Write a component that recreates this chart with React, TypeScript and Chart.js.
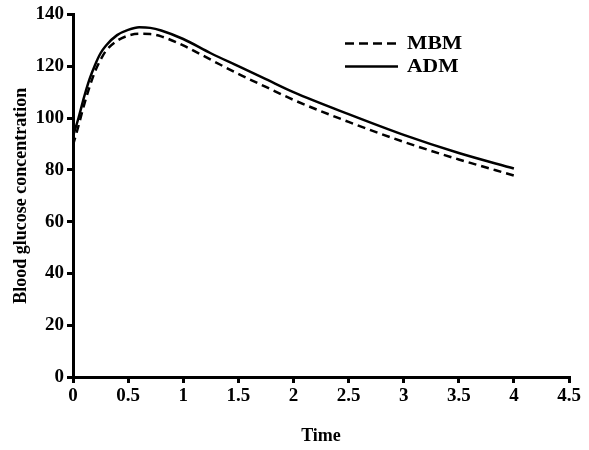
import React, { useEffect, useRef } from "react";
import { Chart, registerables } from "chart.js";

Chart.register(...registerables);

const timePoints = [0, 0.05, 0.1, 0.15, 0.2, 0.25, 0.3, 0.4, 0.5, 0.6, 0.7, 0.8, 1.0, 1.25, 1.5, 1.75, 2, 2.5, 3, 3.5, 4];
const mbmValues = [89.5, 97, 105, 112, 118, 122.5, 126, 129.8, 131.8, 132.5, 132.4, 131.5, 128, 122.5, 117, 112, 107, 98.5, 90.8, 84, 77.8];
const admValues = [93, 100, 108, 115, 120.5, 125, 128, 132, 134, 135, 134.8, 133.8, 130.5, 125, 120, 115, 110, 101.5, 93.5, 86.5, 80.5];
const seriesNames = ["MBM", "ADM"];
const xTitle = "Time";
const yTitle = "Blood glucose concentration";

const FONT = "'Liberation Serif', 'Times New Roman', serif";

const legendPlugin = {
  id: "insideLegend",
  afterDraw(chart: any) {
    const ctx = chart.ctx;
    ctx.save();
    ctx.strokeStyle = "#000";
    ctx.lineWidth = 2.5;
    ctx.setLineDash([9, 5]);
    ctx.beginPath();
    ctx.moveTo(345, 43.5);
    ctx.lineTo(398, 43.5);
    ctx.stroke();
    ctx.setLineDash([]);
    ctx.beginPath();
    ctx.moveTo(345, 66.5);
    ctx.lineTo(398, 66.5);
    ctx.stroke();
    ctx.fillStyle = "#000";
    ctx.font = `bold 18px ${FONT}`;
    ctx.textBaseline = "middle";
    ctx.textAlign = "left";
    [0, 1].forEach((i) => {
      ctx.save();
      ctx.translate(407, 44 + i * 23);
      ctx.scale(1.2, 1);
      ctx.fillText(seriesNames[i], 0, 0);
      ctx.restore();
    });
    ctx.restore();
  },
};

export default function App() {
  const canvasRef = useRef<HTMLCanvasElement | null>(null);

  useEffect(() => {
    if (!canvasRef.current) return;
    const chart = new Chart(canvasRef.current, {
      type: "line",
      data: {
        datasets: [
          {
            label: seriesNames[0],
            data: timePoints.map((t, i) => ({ x: t, y: mbmValues[i] })),
            borderColor: "#000",
            borderWidth: 2.5,
            borderDash: [8, 5],
            pointRadius: 0,
            cubicInterpolationMode: "monotone",
            fill: false,
          },
          {
            label: seriesNames[1],
            data: timePoints.map((t, i) => ({ x: t, y: admValues[i] })),
            borderColor: "#000",
            borderWidth: 2.5,
            pointRadius: 0,
            cubicInterpolationMode: "monotone",
            fill: false,
          },
        ],
      },
      options: {
        animation: false,
        responsive: true,
        maintainAspectRatio: false,
        layout: { padding: { left: 0, right: 20, top: 11, bottom: 0 } },
        plugins: {
          legend: { display: false },
          tooltip: { enabled: false },
        },
        scales: {
          x: {
            type: "linear",
            min: 0,
            max: 4.5,
            ticks: {
              stepSize: 0.5,
              color: "#000",
              padding: 2,
              maxRotation: 0,
              font: { family: FONT, size: 19, weight: "bold" },
              callback: (v: any) => String(v),
            },
            grid: {
              display: true,
              drawOnChartArea: false,
              drawTicks: true,
              tickLength: 6,
              color: "#000",
              lineWidth: 3,
            },
            border: { display: true, color: "#000", width: 3 },
            title: {
              display: true,
              text: xTitle,
              color: "#000",
              font: { family: FONT, size: 18, weight: "bold" },
              padding: { top: 0, bottom: 3 },
            },
            afterFit: (scale: any) => {
              scale.height = 73;
            },
          },
          y: {
            type: "linear",
            min: 0,
            max: 140,
            ticks: {
              stepSize: 20,
              color: "#000",
              padding: 3,
              font: { family: FONT, size: 19, weight: "bold" },
            },
            grid: {
              display: true,
              drawOnChartArea: false,
              drawTicks: true,
              tickLength: 6,
              color: "#000",
              lineWidth: 3,
            },
            border: { display: true, color: "#000", width: 3 },
            title: {
              display: true,
              text: yTitle,
              color: "#000",
              font: { family: FONT, size: 18, weight: "bold" },
              padding: { top: 11, bottom: 0 },
            },
            afterFit: (scale: any) => {
              scale.width = 73;
            },
          },
        },
      },
      plugins: [legendPlugin],
    });
    return () => chart.destroy();
  }, []);

  return (
    <div style={{ position: "absolute", left: 0, top: 0, width: 589, height: 450, background: "#fff" }}>
      <canvas ref={canvasRef} />
    </div>
  );
}
